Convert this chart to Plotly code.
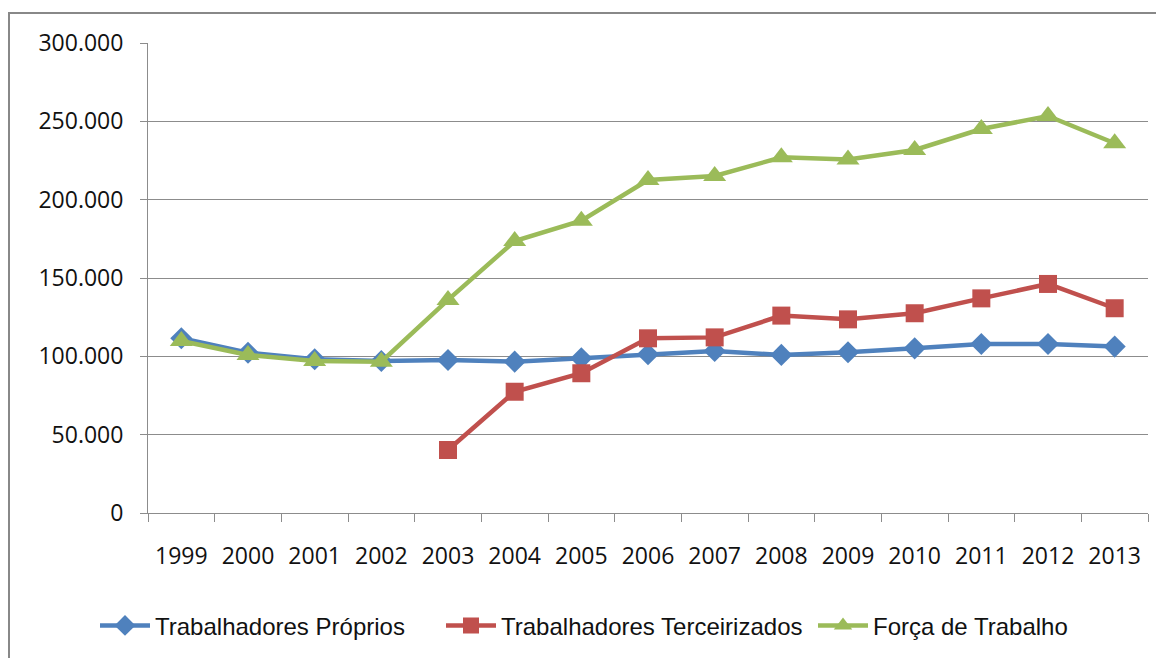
import plotly.graph_objects as go

years = ["1999", "2000", "2001", "2002", "2003", "2004", "2005", "2006",
         "2007", "2008", "2009", "2010", "2011", "2012", "2013"]

proprios = [111500, 102300, 98100, 97000, 97700, 96600, 98700, 101300,
            103400, 100900, 102600, 105100, 107900, 107900, 106200]

terceirizados = [None, None, None, None, 40200, 77400, 89200, 111500,
                 112100, 126000, 123600, 127500, 137000, 146200, 130700]

forca = [109800, 100900, 97000, 96600, 136000, 173600, 186600, 212500,
         215100, 227000, 225700, 231700, 245100, 253400, 236000]

names = ["Trabalhadores Próprios", "Trabalhadores Terceirizados", "Força de Trabalho"]
colors = ["#4F81BD", "#C0504D", "#9BBB59"]
symbols = ["diamond", "square", "triangle-up"]
sizes = [17, 18, 20]
legend_ids = ["legend", "legend2", "legend3"]
legend_x = [-0.053, 0.293, 0.665]

fig = go.Figure()
for vals, name, col, sym, sz, lid in zip([proprios, terceirizados, forca], names, colors,
                                         symbols, sizes, legend_ids):
    fig.add_trace(go.Scatter(
        x=years, y=vals, name=name, mode="lines+markers",
        line=dict(color=col, width=4.5),
        marker=dict(symbol=sym, size=sz, color=col),
        connectgaps=False, legend=lid,
    ))

grid = "#8C8C8C"
legend_font = dict(family="Liberation Sans", size=24, color="#111111")
legends = {}
for lid, lx in zip(legend_ids, legend_x):
    legends[lid] = dict(orientation="h", x=lx, xanchor="left", y=-0.24, yanchor="middle",
                        font=legend_font, itemwidth=50, bgcolor="rgba(0,0,0,0)")

fig.update_layout(
    width=1164, height=658,
    margin=dict(l=140, r=24, t=35, b=153, autoexpand=False),
    paper_bgcolor="white", plot_bgcolor="white",
    separators=",.",
    font=dict(family="Open Sans", size=23, color="#111111"),
    showlegend=True,
    shapes=[dict(type="rect", xref="paper", yref="paper",
                 x0=-0.139, x1=1.2, y0=-0.6, y1=1.064,
                 line=dict(color="#888888", width=2), layer="below")],
    **legends,
)
fig.update_xaxes(type="category", range=[-0.5, 14.5], showgrid=False, showline=True,
                 linecolor=grid, linewidth=1,
                 ticks="outside", tickson="boundaries", ticklen=8, tickcolor=grid,
                 automargin=False,
                 ticklabelstandoff=22, tickfont=dict(family="Open Sans", size=23))
fig.update_yaxes(range=[0, 300000], dtick=50000, tickformat=",d", showgrid=True,
                 gridcolor=grid, gridwidth=1, showline=True, linecolor=grid, linewidth=1,
                 ticks="outside", ticklen=7, tickcolor=grid, zeroline=False,
                 automargin=False,
                 ticklabelstandoff=12, tickfont=dict(family="Open Sans", size=23))

fig.write_html("out.html")
